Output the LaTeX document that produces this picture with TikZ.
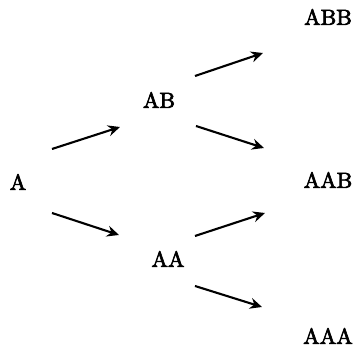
\documentclass[tikz,border=0pt]{standalone}
\usepackage{fontspec}
\usetikzlibrary{arrows.meta}
% emboldened Latin Modern for the labels
\newfontfamily\labelfont{Latin Modern Roman}[FakeBold=3]
\tikzset{
  state/.style={inner sep=0pt, font=\fontsize{11}{13}\labelfont},
  move/.style={line width=1.05pt, -{Stealth[length=6pt, width=5.5pt, inset=2pt]}}
}
\begin{document}
\begin{tikzpicture}[x=0.5pt, y=-0.5pt]
  \useasboundingbox (0,0) rectangle (355,346);

  % sequences
  \node[state] (A)   at (18,182)  {A};
  \node[state] (AB)  at (159,100) {AB};
  \node[state] (AA)  at (168,259) {AA};
  \node[state] (ABB) at (328,17)  {ABB};
  \node[state] (AAB) at (328,180) {AAB};
  \node[state] (AAA) at (328,336) {AAA};

  % arrow end points
  \coordinate (p1) at (52,149);  \coordinate (q1) at (120,127);
  \coordinate (p2) at (52,213);  \coordinate (q2) at (119,235);
  \coordinate (p3) at (195,76);  \coordinate (q3) at (263,53);
  \coordinate (p4) at (196,126); \coordinate (q4) at (264,148);
  \coordinate (p5) at (195,236); \coordinate (q5) at (265,213);
  \coordinate (p6) at (195,286); \coordinate (q6) at (262,307);

  % transitions
  \draw[move] (p1) -- (q1);
  \draw[move] (p2) -- (q2);
  \draw[move] (p3) -- (q3);
  \draw[move] (p4) -- (q4);
  \draw[move] (p5) -- (q5);
  \draw[move] (p6) -- (q6);
\end{tikzpicture}
\end{document}
